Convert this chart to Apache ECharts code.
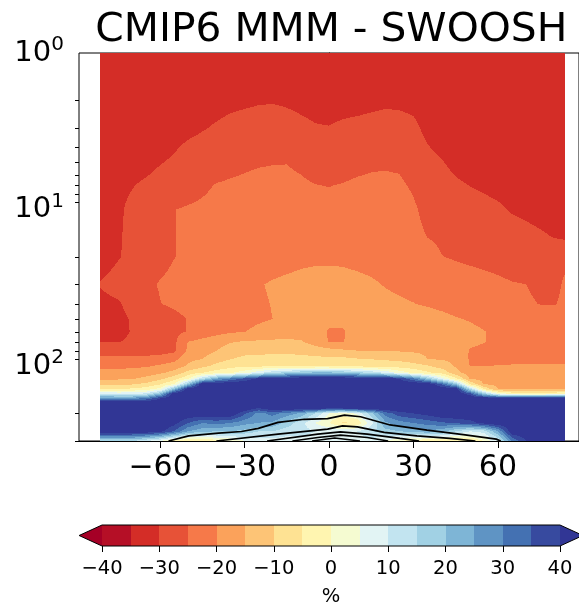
<!DOCTYPE html>
<html>
<head>
<meta charset="utf-8">
<script src="https://cdn.jsdelivr.net/npm/echarts@6/dist/echarts.min.js"></script>
<style>
  html, body { margin: 0; padding: 0; background: #fff; }
  #chart { width: 579px; height: 608px; }
</style>
</head>
<body>
<div id="chart"></div>
<script>
// Zonal-mean ozone difference, CMIP6 multi-model mean minus SWOOSH (%)
const FONT = '"DejaVu Sans", sans-serif';

const latitudes = [-81.25, -75, -70, -65, -60, -55, -50, -45, -40, -35, -30, -25, -20, -15, -10, -5, 0,
  5, 10, 15, 20, 25, 30, 35, 40, 45, 50, 55, 60, 65, 70, 75, 80, 83.75];

const pressureLevels = [1, 1.5, 2, 3, 5, 7, 10, 15, 20, 30, 40, 50, 60, 70, 80, 90, 100, 110, 120,
  130, 140, 150, 160, 170, 185, 200, 230, 260, 300];

// one row of differences per pressure level, ordered like `latitudes`
const hPa1   = [-33,-33,-33,-33,-33,-33,-33,-33,-33,-33,-32.5,-32.5,-32.5,-32.5,-32.5,-32.5,-32.5,-32.5,-32.5,-32.5,-32.5,-32.5,-32.5,-33,-33,-33,-33,-33,-33,-33,-33,-33,-33,-33];
const hPa1_5 = [-33,-33,-33,-33,-33,-32.5,-32.5,-32,-32,-31.8,-31.5,-31.4,-31.3,-31.4,-31.6,-31.8,-32,-32,-32,-32,-32,-32,-32.2,-32.5,-32.8,-33,-33,-33,-33,-33,-33,-33,-33,-33];
const hPa2   = [-33,-33,-33,-33,-32.8,-32.5,-32.2,-31.8,-31.4,-31,-30.7,-30.4,-30.3,-30.5,-30.8,-31,-31.2,-31.1,-31.1,-30.9,-30.7,-30.8,-31.1,-31.6,-32.2,-32.6,-33,-33,-33,-33,-33,-33,-33,-33];
const hPa3   = [-33,-33,-33,-32.5,-32,-31.5,-31,-30.3,-29.6,-28.9,-28.5,-28.2,-28.1,-28.7,-29.3,-29.8,-29.9,-29.5,-29.2,-28.9,-28.5,-28.6,-29.2,-31,-32,-32.5,-33,-33,-33,-33,-33,-33,-33,-33];
const hPa5   = [-33,-32.5,-32,-31.3,-30.2,-29.5,-28.1,-27.6,-26.8,-26.1,-25.6,-25.3,-25.15,-25.1,-25.8,-26.8,-27.1,-26.6,-26,-25.6,-25.5,-25.7,-27.2,-28.9,-29.8,-30.8,-31.5,-32,-32.3,-32.5,-32.8,-33,-33,-33];
const hPa7   = [-31.5,-30.8,-30.2,-29.3,-28.4,-27.5,-26.6,-25.7,-24.8,-24.5,-24.3,-24,-23.9,-23.9,-24.3,-24.9,-25.1,-24.8,-24.4,-24.2,-24.1,-24.3,-25.6,-27.8,-28.7,-29.5,-30.05,-30.5,-31,-31.6,-32,-32.4,-32.7,-33];
const hPa10  = [-31.6,-30.6,-29.2,-27.8,-26.4,-25.05,-24.6,-24.3,-23.8,-23.3,-23,-22.8,-22.7,-22.7,-23,-23.6,-23.9,-23.6,-23.2,-22.9,-22.9,-23,-24.3,-26.5,-27.4,-28,-28.6,-29,-29.45,-30.3,-30.7,-31.2,-31.8,-32];
const hPa15  = [-32.1,-30.4,-29.1,-27.8,-26.5,-25.1,-24.5,-24,-23.6,-23.3,-23,-22.7,-22.5,-22.2,-22,-21.8,-21.7,-21.8,-22,-22.3,-22.6,-23,-23.6,-25.05,-25.6,-26.1,-26.7,-27.3,-27.8,-28.4,-29,-29.5,-30.1,-30.6];
const hPa20  = [-31.9,-30.3,-29,-27.7,-26.4,-25.1,-24.3,-23.8,-23.3,-22.8,-22.3,-21.9,-21.5,-21.2,-20.8,-20.6,-20.6,-20.7,-21.1,-21.4,-21.8,-22.3,-22.8,-23.6,-24.9,-25.4,-25.8,-26.1,-26.4,-26.8,-27,-27.2,-27,-25.8];
const hPa30  = [-29.8,-28.5,-27.2,-25.9,-24.7,-23.9,-23.2,-22.6,-22,-21.4,-20.9,-20.2,-19.7,-19.3,-19,-18.8,-18.7,-18.8,-19,-19.5,-20.2,-20.7,-21.2,-21.7,-22.3,-22.8,-23.3,-23.8,-24.3,-24.8,-25,-25.8,-26,-24.5];
const hPa40  = [-31,-30.5,-28.7,-26.8,-25.1,-24.3,-23.5,-22.7,-22,-21.3,-20.8,-20.4,-19.9,-19.3,-18.8,-18.5,-18.4,-18.4,-18.5,-18.7,-19.1,-19.5,-19.9,-20.4,-21,-21.6,-22.2,-22.8,-23.4,-24,-24.5,-25.1,-25.2,-24.3];
const hPa50  = [-31.5,-31,-29.7,-28.2,-27.2,-26.2,-24.8,-23.3,-22.5,-21.8,-21.1,-20.5,-20,-19.3,-18.8,-18.8,-19.2,-19.2,-18.6,-18.1,-17.8,-17.7,-17.8,-18.3,-18.9,-19.7,-20.3,-21,-21.6,-22.2,-22.7,-23,-23.2,-23];
const hPa60  = [-31.3,-31,-29.8,-28.2,-27.2,-26.2,-24.8,-23,-21.8,-20.8,-20.1,-19.2,-18.3,-17.5,-17.2,-18.5,-20.3,-20.3,-18.3,-17,-16.5,-16.3,-16.4,-16.9,-17.5,-18.2,-19,-19.9,-20.6,-21.2,-21.7,-22,-22.1,-22];
const hPa70  = [-30.1,-30.1,-29.5,-28,-27,-26,-19.8,-18.5,-17,-15.3,-14.5,-14.2,-14,-14,-14.5,-16.8,-20.3,-20.2,-17.8,-16.3,-15.8,-15.7,-15.8,-16.3,-16.9,-17.8,-19.3,-19.9,-20.5,-21,-21.3,-21.5,-21.5,-21.3];
const hPa80  = [-26.9,-26.9,-26.9,-26.8,-26.5,-25.8,-19,-17,-15,-12.5,-11.5,-11.3,-11.2,-11.1,-11.5,-12.3,-12.8,-13.9,-14.9,-15,-15,-15.2,-15.5,-15.8,-16.2,-16.9,-20.3,-20.8,-21,-21,-21,-21,-21,-21];
const hPa90  = [-23.9,-23.9,-23.8,-23.7,-23.3,-21.6,-16.2,-15,-12,-10.1,-8.8,-8.5,-8.1,-8.1,-8.3,-8.6,-9,-8.8,-9.6,-10.1,-10.7,-11.2,-12.4,-15,-15.4,-16.1,-20.4,-20.6,-20.6,-20.6,-20.6,-20.6,-20.6,-20.6];
const hPa100 = [-21.2,-21.2,-20.8,-20.5,-19,-17.5,-14.2,-11.1,-8.6,-6.5,-5.8,-5.6,-5.4,-5.2,-5,-5,-5,-5.2,-5.6,-6,-6.3,-7,-7.9,-9.3,-12,-15.5,-20,-20,-19.9,-19.8,-19.8,-19.8,-19.8,-19.8];
const hPa110 = [-18.5,-18.4,-18,-17.2,-15.8,-13.5,-8.1,-5,-2.5,-0.6,2.9,8.6,14.3,17,20,21.3,21.3,20,17,14.3,9.2,3.1,-0.8,-4.2,-6.5,-13.1,-17.5,-18.3,-18.6,-18.6,-18.7,-18.7,-18.8,-18.8];
const hPa120 = [-16.1,-15.7,-15.3,-13.8,-11.3,-7,-0.75,13.7,25,31,36.6,42,45,45,45,45,45,45,45,45,45,40,31,19.4,7,-4,-15.2,-16.7,-17.3,-17.4,-17.4,-17.5,-17.6,-17.6];
const hPa130 = [-11.8,-11.1,-10.5,-8.9,-5.6,-0.1,19.5,45,45,45,45,45,45,45,45,45,45,45,45,45,45,45,45,45,34.5,19.5,-5.3,-15.3,-16.1,-16.3,-16.3,-16.4,-16.4,-16.4];
const hPa140 = [-4.8,-4.5,-4.1,-2.4,1.7,21.8,45,45,45,45,45,45,45,45,45,45,45,45,45,45,45,45,45,45,45,45,16,-5.3,-15,-15.4,-15.4,-15.4,-15.4,-15.4];
const hPa150 = [10.4,8.8,8.8,11.6,21.5,45,45,45,45,45,45,45,45,45,45,45,45,45,45,45,45,45,45,45,45,45,38,19,4.8,-1.3,-2.5,-2.5,-1.3,0.3];
const hPa160 = [27.6,27,27,30.7,39.6,45,45,45,45,45,45,45,45,45,45,45,45,45,45,45,45,45,45,45,45,45,45,45,45,45,45,45,45,45];
const hPa170 = [45,45,45,45,45,45,45,45,45,45,45,45,45,45,45,45,45,45,45,45,45,45,45,45,45,45,45,45,45,45,45,45,45,45];
const hPa185 = [45,45,45,45,45,45,45,45,45,45,45,40,45,45,45,45,42,43,45,45,45,45,45,45,45,45,45,45,45,45,45,45,45,45];
const hPa200 = [45,45,45,45,45,45,45,45,45,45,36,28,32,28,24,15,5,2,6,18,32,38,40,42,45,45,45,45,45,45,45,45,45,45];
const hPa230 = [45,45,45,45,45,42,35,30,32,30,27,25,24,18,12,5,0,-6,-4,8,24,28,30,32,34,36,38,42,45,45,45,45,45,45];
const hPa260 = [45,45,45,45,42,35,25,22,20,20,18,15,15,12,12,10,10,8,10,14,18,20,22,24,22,15,10,12,25,45,45,45,45,45];
const hPa300 = [15,15,15,10,5,-3,-6,-6,-3,0,5,8,8,8,8,8,8,8,8,8,5,0,-3,-5,-6,-6,-5,0,10,30,40,45,45,45];

const percentDiff = [hPa1, hPa1_5, hPa2, hPa3, hPa5, hPa7, hPa10, hPa15, hPa20, hPa30, hPa40, hPa50,
  hPa60, hPa70, hPa80, hPa90, hPa100, hPa110, hPa120, hPa130, hPa140, hPa150, hPa160, hPa170,
  hPa185, hPa200, hPa230, hPa260, hPa300];

// black overlay contours near the tropopause (latitude, pressure)
const contour1Lat = [-57, -49.8, -39.2, -31.1, -25.1, -18.1, -8.7, -0.5, 5.5, 11.2, 21.7, 34.8, 47.7, 59.4, 61];
const contour1P   = [300, 278, 267, 261, 249, 228, 218, 216, 205, 210, 237, 256, 273, 292, 300];
const contour2Lat = [-40, -18.1, -0.5, 4.8, 10.1, 19.6, 31.2, 42.9, 52];
const contour2P   = [300, 271, 252, 240, 243.5, 264, 278, 289, 300];
const contour3Lat = [-22, -4, 4.1, 13.6, 25.2, 32];
const contour3P   = [300, 271, 262, 271, 289, 300];
const contour4Lat = [-13, -4, 4.1, 13.6, 21];
const contour4P   = [300, 285, 275, 285, 300];
const contour5Lat = [-6, 2, 11];
const contour5P   = [300, 287, 300];

// filled-contour levels and RdYlBu colours
const contourLevels = [-40, -35, -30, -25, -20, -15, -10, -5, 0, 5, 10, 15, 20, 25, 30, 35, 40];
const bandColors = ['#b50f26', '#d42d27', '#e75237', '#f67949', '#fba25b', '#fdc476', '#fee293', '#fff5b0',
  '#f5fbd1', '#e2f4f4', '#c2e4f0', '#a1d1e4', '#7eb5d6', '#5f94c4', '#4471b2', '#374a9f'];
const underColor = '#a50026';
const overColor = '#313695';

const latRange = [-88.8, 88.8];
const pressureRange = [1, 300];
const latTicks = [-60, -30, 0, 30, 60];
const pressureMajorTicks = [1, 10, 100];
const pressureMinorTicks = [2, 3, 4, 5, 6, 7, 8, 9, 20, 30, 40, 50, 60, 70, 80, 90, 200, 300];
const colorbarTicks = [-40, -30, -20, -10, 0, 10, 20, 30, 40];

const palette = [underColor].concat(bandColors, [overColor]);
const lo = contourLevels[0], hi = contourLevels[contourLevels.length - 1];
const step = contourLevels[1] - contourLevels[0];
function bandIndex(v) {
  if (v < lo) return 0;
  if (v >= hi) return palette.length - 1;
  return 1 + Math.floor((v - lo) / step);
}
const minusSign = v => (v < 0 ? '\u2212' + (-v) : String(v));

// one item per grid cell; the cell is filled by bilinear interpolation of its corner values
const cellData = [];
for (let j = 0; j < pressureLevels.length - 1; j++) {
  for (let i = 0; i < latitudes.length - 1; i++) {
    cellData.push([latitudes[i], pressureLevels[j], i, j]);
  }
}

function renderCell(params, api) {
  const i = api.value(2), j = api.value(3);
  const a = api.coord([latitudes[i], pressureLevels[j]]);
  const b = api.coord([latitudes[i + 1], pressureLevels[j + 1]]);
  const v00 = percentDiff[j][i], v10 = percentDiff[j][i + 1];
  const v01 = percentDiff[j + 1][i], v11 = percentDiff[j + 1][i + 1];
  const x0 = Math.round(a[0]), x1 = Math.round(b[0]);
  const y0 = Math.round(a[1]), y1 = Math.round(b[1]);
  const w = b[0] - a[0], h = b[1] - a[1];
  const children = [];
  for (let py = y0; py < y1; py++) {
    const ty = Math.min(1, Math.max(0, (py + 0.5 - a[1]) / h));
    const vl = v00 + (v01 - v00) * ty;
    const vr = v10 + (v11 - v10) * ty;
    let start = x0, band = -1;
    for (let px = x0; px <= x1; px++) {
      let nb = -2;
      if (px < x1) {
        const tx = Math.min(1, Math.max(0, (px + 0.5 - a[0]) / w));
        nb = bandIndex(vl + (vr - vl) * tx);
      }
      if (nb !== band) {
        if (band >= 0) {
          children.push({ type: 'rect', shape: { x: start, y: py, width: px - start, height: 1 },
            style: { fill: palette[band] } });
        }
        start = px; band = nb;
      }
    }
  }
  return { type: 'group', children };
}

// minor ticks of the logarithmic pressure axis
function renderMinorTick(params, api) {
  const p = api.coord([latRange[0], api.value(1)]);
  const y = Math.round(p[1]) + 0.5;
  return { type: 'line', shape: { x1: p[0] - 4, y1: y, x2: p[0], y2: y },
    style: { stroke: '#000', lineWidth: 1 } };
}

// colour bar pieces
const colorbarCells = contourLevels.slice(0, -1).map((v, k) => [v, contourLevels[k + 1], k]);
const extendLen = 0.05 * (hi - lo);

function renderColorbarCell(params, api) {
  const p0 = api.coord([api.value(0), 1]);
  const p1 = api.coord([api.value(1), 0]);
  const x0 = Math.round(p0[0]), x1 = Math.round(p1[0]);
  return { type: 'rect', shape: { x: x0, y: p0[1], width: x1 - x0, height: p1[1] - p0[1] },
    style: { fill: bandColors[api.value(2)] } };
}
function renderColorbarFrame(params, api) {
  const pt = (x, y) => api.coord([x, y]);
  const under = [pt(lo, 0), pt(lo, 1), pt(lo - extendLen, 0.5)];
  const over = [pt(hi, 0), pt(hi, 1), pt(hi + extendLen, 0.5)];
  const outline = [pt(lo - extendLen, 0.5), pt(lo, 1), pt(hi, 1), pt(hi + extendLen, 0.5), pt(hi, 0), pt(lo, 0)];
  return { type: 'group', children: [
    { type: 'polygon', shape: { points: under }, style: { fill: underColor } },
    { type: 'polygon', shape: { points: over }, style: { fill: overColor } },
    { type: 'polygon', shape: { points: outline }, style: { fill: 'none', stroke: '#000', lineWidth: 1 } }
  ] };
}

function lineData(lats, ps) { return lats.map((v, k) => [v, ps[k]]); }
const overlayLines = [
  lineData(contour1Lat, contour1P),
  lineData(contour2Lat, contour2P),
  lineData(contour3Lat, contour3P),
  lineData(contour4Lat, contour4P),
  lineData(contour5Lat, contour5P)
];

const chart = echarts.init(document.getElementById('chart'), null, { renderer: 'canvas' });

const option = {
  animation: false,
  backgroundColor: '#fff',
  textStyle: { fontFamily: FONT },
  graphic: [{
    type: 'text', x: 331.3, y: 11, scaleX: 1.045, z: 10,
    style: { text: 'CMIP6 MMM - SWOOSH', font: '39px "DejaVu Sans", sans-serif', fill: '#000',
      align: 'center', textAlign: 'center', verticalAlign: 'top', textVerticalAlign: 'top' }
  }],
  grid: [
    { left: 79, top: 53, width: 504.6, height: 388, show: true, borderColor: '#000', borderWidth: 1,
      backgroundColor: 'transparent' },
    { left: 102, top: 525, width: 458, height: 22 }
  ],
  xAxis: [
    { type: 'value', gridIndex: 0, min: latRange[0], max: latRange[1],
      axisLine: { show: true, lineStyle: { color: '#000', width: 1 } },
      axisTick: { show: true, length: 7, lineStyle: { color: '#000', width: 1 }, customValues: latTicks },
      axisLabel: { show: true, customValues: latTicks, formatter: minusSign, margin: 12,
        fontSize: 30, color: '#000', fontFamily: FONT },
      splitLine: { show: false } },
    { type: 'value', gridIndex: 1, min: lo, max: hi, interval: 10,
      axisLine: { show: false },
      axisTick: { show: true, length: 6, lineStyle: { color: '#000', width: 1 }, customValues: colorbarTicks },
      axisLabel: { show: true, customValues: colorbarTicks, formatter: minusSign, margin: 13,
        fontSize: 19.5, color: '#000', fontFamily: FONT },
      splitLine: { show: false },
      name: '%', nameLocation: 'middle', nameGap: 41,
      nameTextStyle: { fontSize: 19.5, color: '#000', fontFamily: FONT } }
  ],
  yAxis: [
    { type: 'log', logBase: 10, gridIndex: 0, min: pressureRange[0], max: pressureRange[1], inverse: true,
      axisLine: { show: true, lineStyle: { color: '#000', width: 1 } },
      axisTick: { show: true, length: 7, lineStyle: { color: '#000', width: 1 }, customValues: pressureMajorTicks },
      axisLabel: { show: true, customValues: pressureMajorTicks, margin: 15,
        formatter: v => {
          const e = Math.round(Math.log10(v));
          return Math.abs(Math.pow(10, e) - v) < 1e-6 * v ? '{b|10}{s|' + e + '}' : '';
        },
        rich: {
          b: { fontSize: 29, lineHeight: 36, color: '#000', fontFamily: FONT, verticalAlign: 'middle' },
          s: { fontSize: 20, lineHeight: 12, color: '#000', fontFamily: FONT, verticalAlign: 'top' }
        } },
      splitLine: { show: false } },
    { type: 'value', gridIndex: 1, min: 0, max: 1, show: false }
  ],
  series: [
    { type: 'custom', xAxisIndex: 0, yAxisIndex: 0, renderItem: renderCell, data: cellData,
      silent: true, z: 1, progressive: 0 },
    ...overlayLines.map(d => ({
      type: 'line', xAxisIndex: 0, yAxisIndex: 0, data: d, showSymbol: false, symbol: 'none',
      silent: true, z: 3, clip: true, lineStyle: { color: '#000', width: 1.7 }
    })),
    { type: 'custom', xAxisIndex: 0, yAxisIndex: 0, renderItem: renderMinorTick,
      data: pressureMinorTicks.map(p => [latRange[0], p]), silent: true, z: 5, clip: false },
    { type: 'custom', xAxisIndex: 1, yAxisIndex: 1, renderItem: renderColorbarCell, data: colorbarCells,
      silent: true, z: 1 },
    { type: 'custom', xAxisIndex: 1, yAxisIndex: 1, renderItem: renderColorbarFrame, data: [[0, 0]],
      silent: true, z: 2, clip: false }
  ]
};

chart.setOption(option);
</script>
</body>
</html>
